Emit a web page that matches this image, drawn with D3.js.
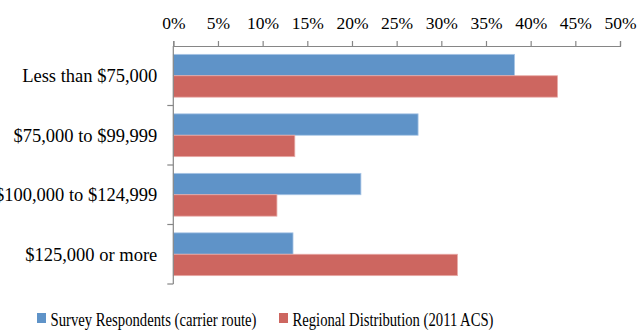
<!DOCTYPE html>
<html>
<head>
<meta charset="utf-8">
<script src="https://cdn.jsdelivr.net/npm/d3@7"></script>
<style>
  html, body { margin: 0; padding: 0; background: #fff; }
  svg { display: block; }
  text { font-family: "Liberation Serif", "DejaVu Serif", serif; fill: #000; }
</style>
</head>
<body>
<div id="chart"></div>
<script>
// Household income distribution: survey respondents vs. regional ACS figures
const categories = ["Less than $75,000", "$75,000 to $99,999", "$100,000 to $124,999", "$125,000 or more"];
const seriesNames = ["Survey Respondents (carrier route)", "Regional Distribution (2011 ACS)"];
const surveyValues = [38.2, 27.4, 21.0, 13.4];
const regionalValues = [43.0, 13.6, 11.6, 31.8];
const tickValues = [0, 5, 10, 15, 20, 25, 30, 35, 40, 45, 50];

const width = 637, height = 331;
const colors = ["#5F93C8", "#CD6660"];
const strokes = ["#A9C6E6", "#E8AAA6"];
const margin = { top: 46, left: 173.3, right: 17, bottom: 47 };

const svg = d3.select("#chart").append("svg")
  .attr("width", width).attr("height", height);

const x = d3.scaleLinear().domain([0, 50]).range([margin.left, width - margin.right]);
const y = d3.scaleBand().domain(categories).range([margin.top, height - margin.bottom]);
const inner = d3.scaleBand().domain([0, 1])
  .range([0, y.bandwidth()]).paddingOuter(0.39);

const data = categories.map((c, i) => ({ cat: c, vals: [surveyValues[i], regionalValues[i]] }));

// bars
const groups = svg.append("g").selectAll("g").data(data).join("g")
  .attr("transform", d => `translate(0,${y(d.cat)})`);
groups.selectAll("rect").data(d => d.vals.map((v, k) => ({ v, k }))).join("rect")
  .attr("x", x(0))
  .attr("y", d => inner(d.k))
  .attr("width", d => x(d.v) - x(0))
  .attr("height", inner.bandwidth())
  .attr("fill", d => colors[d.k])
  .attr("stroke", d => strokes[d.k])
  .attr("stroke-width", 0.8);

// top value axis
const xAxis = d3.axisTop(x).tickValues(tickValues).tickSize(5).tickPadding(12)
  .tickFormat(d => d + "%");
const gx = svg.append("g").attr("transform", `translate(0,${margin.top})`).call(xAxis);
gx.select(".domain").attr("stroke", "#868686").attr("stroke-width", 1.2);
gx.selectAll(".tick line").attr("stroke", "#868686").attr("stroke-width", 1.2);
gx.selectAll(".tick text").attr("font-size", 17.5).attr("font-family", "Liberation Serif");

// left category axis
const gy = svg.append("g").attr("transform", `translate(${margin.left},0)`);
gy.append("line")
  .attr("x1", 0).attr("x2", 0)
  .attr("y1", margin.top).attr("y2", height - margin.bottom)
  .attr("stroke", "#868686").attr("stroke-width", 1.2);
const edges = categories.slice(1).map(c => y(c)).concat([y.range()[1]]);
gy.selectAll("line.tick").data(edges).join("line")
  .attr("class", "tick")
  .attr("x1", -6).attr("x2", 0)
  .attr("y1", d => d).attr("y2", d => d)
  .attr("stroke", "#868686").attr("stroke-width", 1.2);
gy.selectAll("text").data(categories).join("text")
  .attr("x", -16)
  .attr("y", d => y(d) + y.bandwidth() / 2)
  .attr("dy", "0.35em")
  .attr("text-anchor", "end")
  .attr("font-size", 18.5)
  .text(d => d);

// legend
const legendX = [37, 279];
const legendLen = [206, 201];
const legend = svg.append("g").selectAll("g").data(seriesNames).join("g")
  .attr("transform", (d, i) => `translate(${legendX[i]},313)`);
legend.append("rect").attr("width", 9).attr("height", 10)
  .attr("fill", (d, i) => colors[i]);
legend.append("text").attr("x", 13.5).attr("y", 13)
  .attr("font-size", 18.5)
  .attr("textLength", (d, i) => legendLen[i])
  .attr("lengthAdjust", "spacingAndGlyphs")
  .text(d => d);
</script>
</body>
</html>
